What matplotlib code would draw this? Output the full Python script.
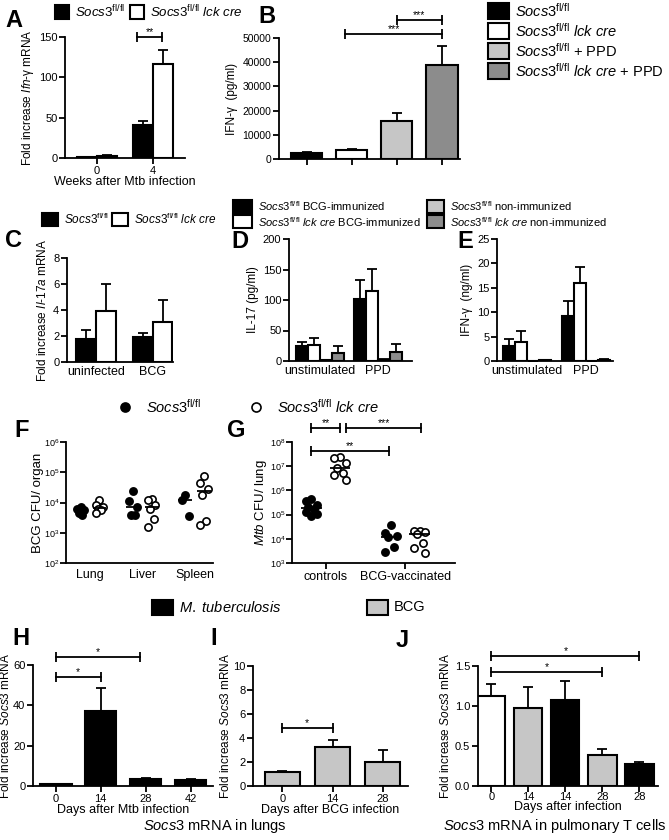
import numpy as np
import matplotlib
matplotlib.use('Agg')
import matplotlib.pyplot as plt
from matplotlib.patches import Rectangle
from matplotlib.lines import Line2D
from matplotlib.ticker import NullLocator, LogLocator

plt.rcParams['font.family'] = ['Liberation Sans', 'DejaVu Sans']
plt.rcParams['mathtext.fontset'] = 'custom'
plt.rcParams['mathtext.rm'] = 'Liberation Sans'
plt.rcParams['mathtext.it'] = 'Liberation Sans:italic'
plt.rcParams['mathtext.bf'] = 'Liberation Sans:bold'
plt.rcParams['axes.linewidth'] = 1.3

# ---- datos ----
# A
a_groups = ['0', '4']
a_fl = [1.0, 41]
a_fl_err = [0.2, 5]
a_cre = [2.5, 117]
a_cre_err = [1.2, 17]

# B
b_vals = [2500, 3800, 15800, 39000]
b_err = [500, 500, 3300, 7800]

# C
c_groups = ['uninfected', 'BCG']
c_fl = [1.8, 1.95]
c_fl_err = [0.7, 0.25]
c_cre = [3.9, 3.1]
c_cre_err = [2.1, 1.65]

# D / E
de_groups = ['unstimulated', 'PPD']
d_fl_bcg = [24, 102]
d_fl_bcg_err = [7, 31]
d_cre_bcg = [27, 115]
d_cre_bcg_err = [10, 36]
d_fl_non = [1, 2]
d_fl_non_err = [0.5, 1]
d_cre_non = [13, 14]
d_cre_non_err = [12, 14]

e_fl_bcg = [3.1, 9.3]
e_fl_bcg_err = [1.4, 2.9]
e_cre_bcg = [3.8, 16.0]
e_cre_bcg_err = [2.3, 3.2]
e_fl_non = [0.05, 0.05]
e_fl_non_err = [0, 0]
e_cre_non = [0.15, 0.3]
e_cre_non_err = [0.05, 0.05]

# F
f_groups = ['Lung', 'Liver', 'Spleen']
f_fl = [[7200, 6300, 5600, 4350, 3800],
        [23600, 11000, 7200, 4000, 4000],
        [17400, 12000, 3600]]
f_cre = [[11900, 8200, 7200, 6300, 5500, 4350],
         [13000, 12000, 8200, 6300, 2800, 1600],
         [73000, 45000, 29000, 17400, 2400, 1800]]

# G
g_groups = ['controls', 'BCG-vaccinated']
g_fl = [[4.3e5, 3.7e5, 2.5e5, 2.0e5, 1.65e5, 1.3e5, 1.05e5, 8.8e4],
        [3.6e4, 1.7e4, 1.25e4, 1.2e4, 4.5e3, 2.9e3]]
g_cre = [[2.3e7, 2.1e7, 1.4e7, 8.5e6, 5e6, 4.3e6, 2.6e6],
         [2.1e4, 2.1e4, 2.0e4, 1.6e4, 6.6e3, 4.2e3, 2.6e3]]

# H / I / J
h_days = ['0', '14', '28', '42']
h_vals = [1.0, 37, 3.3, 2.8]
h_err = [0.1, 11.5, 0.5, 0.7]

i_days = ['0', '14', '28']
i_vals = [1.15, 3.25, 2.0]
i_err = [0.12, 0.55, 1.0]

j_days = ['0', '14', '14', '28', '28']
j_vals = [1.13, 0.97, 1.08, 0.39, 0.28]
j_err = [0.15, 0.27, 0.23, 0.07, 0.02]

# ---- colores ----
BLACK = 'black'
WHITE = 'white'
LIGHT = '#c6c6c6'
DARK = '#8c8c8c'
j_colors = [WHITE, LIGHT, BLACK, LIGHT, BLACK]

fl = r'$\mathit{Socs3}^{\mathrm{fl/fl}}$'
cre = r'$\mathit{Socs3}^{\mathrm{fl/fl}}\ \mathit{lck\ cre}$'

W, H = 669, 840
fig = plt.figure(figsize=(W / 100, H / 100), dpi=100)


def box(l, t, r, b):
    return fig.add_axes([l / W, 1 - b / H, (r - l) / W, (b - t) / H])


def style(ax, fs=8):
    for s in ['top', 'right']:
        ax.spines[s].set_visible(False)
    ax.tick_params(direction='out', length=4, width=1.3, labelsize=fs, pad=1.5)


def bars(ax, x, h, e, color, w):
    ax.bar(x, h, w, color=color, edgecolor='black', linewidth=1.5, zorder=2)
    ax.errorbar(x, h, yerr=[np.zeros(len(e)), e], fmt='none', ecolor='black',
                elinewidth=1.3, capsize=3.5, capthick=1.3, zorder=3)


def sig(ax, x1, x2, y, txt):
    ax.plot([x1, x2], [y, y], color='black', lw=1.3, marker='|', ms=7, mew=1.3,
            clip_on=False, zorder=4)
    ax.text((x1 + x2) / 2, y, txt, ha='center', va='bottom', fontsize=7.5)


def key_box(x, y, color, label, fs, w=20, h=14):
    fig.patches.append(Rectangle((x / W, 1 - (y + h / 2) / H), w / W, h / H,
                                 transform=fig.transFigure, facecolor=color,
                                 edgecolor='black', lw=1.5))
    fig.text((x + w + 6) / W, 1 - y / H, label, fontsize=fs, va='center', ha='left')


def letter(x, y, s):
    fig.text(x / W, 1 - y / H, s, fontsize=17, fontweight='bold', ha='left', va='baseline')


def spread(n, d):
    pat = [0, -1, 1, -0.5, 0.5, -1, 1, 0, -0.5]
    return np.array([pat[i % len(pat)] for i in range(n)]) * d


# ---- A ----
ax = box(65, 37, 185, 158)
style(ax)
xa = np.arange(len(a_groups))
bars(ax, xa - 0.18, a_fl, a_fl_err, BLACK, 0.36)
bars(ax, xa + 0.18, a_cre, a_cre_err, WHITE, 0.36)
ax.set_xlim(-0.57, 1.57)
ax.set_ylim(0, 150)
ax.set_yticks([0, 50, 100, 150])
ax.set_xticks(xa)
ax.set_xticklabels(a_groups)
ax.set_xlabel('Weeks after Mtb infection', fontsize=9, labelpad=0)
ax.set_ylabel(r'Fold increase $\mathit{Ifn}$-γ mRNA', fontsize=8.5, labelpad=2)
sig(ax, 0.72, 1.16, 150, '**')
key_box(55, 12, BLACK, fl, 9.5, w=14, h=13)
key_box(130, 12, WHITE, cre, 9.5, w=14, h=13)
letter(5, 27, 'A')

# ---- B ----
ax = box(279, 38, 460, 159)
style(ax, 7.5)
xb = np.arange(len(b_vals))
bars(ax, xb, b_vals, b_err, [BLACK, WHITE, LIGHT, DARK], 0.69)
ax.set_xlim(-0.62, 3.4)
ax.set_ylim(0, 50000)
ax.set_yticks(range(0, 50001, 10000))
ax.set_xticks(xb)
ax.set_xticklabels([])
ax.set_ylabel('IFN-γ  (pg/ml)', fontsize=8.5, labelpad=3)
sig(ax, 2, 3, 57400, '***')
sig(ax, 0.85, 3, 51700, '***')
b_labels = [fl, cre, fl + ' + PPD', cre + ' + PPD']
for k, (c, lab) in enumerate(zip([BLACK, WHITE, LIGHT, DARK], b_labels)):
    key_box(488, 11 + 20 * k, c, lab, 10.5, w=21, h=15)
letter(258, 23, 'B')

# ---- C ----
ax = box(67, 258, 173, 362)
style(ax)
xc = np.arange(len(c_groups))
bars(ax, xc - 0.175, c_fl, c_fl_err, BLACK, 0.35)
bars(ax, xc + 0.175, c_cre, c_cre_err, WHITE, 0.35)
ax.set_xlim(-0.51, 1.36)
ax.set_ylim(0, 8)
ax.set_yticks([0, 2, 4, 6, 8])
ax.set_xticks(xc)
ax.set_xticklabels(c_groups, fontsize=9)
ax.tick_params(axis='x', length=0, pad=3)
ax.set_ylabel(r'Fold increase $\mathit{Il}$-$\mathit{17a}$ mRNA', fontsize=8.5, labelpad=3)
key_box(42, 219, BLACK, fl, 8.5, w=16, h=13)
key_box(112, 219, WHITE, cre, 8.5, w=16, h=13)
letter(5, 247, 'C')

# ---- D ----
bw = 0.21
offs = np.array([-1.5, -0.5, 0.5, 1.5]) * bw
ax = box(289, 239, 412, 361)
style(ax)
xd = np.arange(len(de_groups))
bars(ax, xd + offs[0], d_fl_bcg, d_fl_bcg_err, BLACK, bw)
bars(ax, xd + offs[1], d_cre_bcg, d_cre_bcg_err, WHITE, bw)
bars(ax, xd + offs[2], d_fl_non, d_fl_non_err, LIGHT, bw)
bars(ax, xd + offs[3], d_cre_non, d_cre_non_err, DARK, bw)
ax.set_xlim(-0.54, 1.59)
ax.set_ylim(0, 200)
ax.set_yticks([0, 50, 100, 150, 200])
ax.set_xticks(xd)
ax.set_xticklabels(de_groups, fontsize=9)
ax.tick_params(axis='x', length=0, pad=3)
ax.set_ylabel('IL-17 (pg/ml)', fontsize=8.5, labelpad=3)
letter(231, 248, 'D')

# ---- E ----
bw_e = 0.2
offs_e = np.array([-1.5, -0.5, 0.5, 1.5]) * bw_e
ax = box(497, 239, 613, 361)
style(ax)
bars(ax, xd + offs_e[0], e_fl_bcg, e_fl_bcg_err, BLACK, bw_e)
bars(ax, xd + offs_e[1], e_cre_bcg, e_cre_bcg_err, WHITE, bw_e)
bars(ax, xd + offs_e[2], e_fl_non, e_fl_non_err, LIGHT, bw_e)
bars(ax, xd + offs_e[3], e_cre_non, e_cre_non_err, DARK, bw_e)
ax.set_xlim(-0.5, 1.45)
ax.set_ylim(0, 25)
ax.set_yticks([0, 5, 10, 15, 20, 25])
ax.set_xticks(xd)
ax.set_xticklabels(de_groups, fontsize=9)
ax.tick_params(axis='x', length=0, pad=3)
ax.set_ylabel('IFN-γ  (ng/ml)', fontsize=8.5, labelpad=3)
letter(457, 248, 'E')

# legend D/E
key_box(233, 206, BLACK, fl + ' BCG-immunized', 8, w=19, h=13)
key_box(233, 222, WHITE, cre + ' BCG-immunized', 8, w=19, h=13)
key_box(427, 206, LIGHT, fl + ' non-immunized', 8, w=17, h=13)
key_box(427, 222, DARK, cre + ' non-immunized', 8, w=17, h=13)


def dots(ax, xpos, groups_fl, groups_cre, off, d):
    for k in range(len(groups_fl)):
        for vals, sgn, face in [(groups_fl[k], -1, 'black'), (groups_cre[k], 1, 'white')]:
            v = np.array(vals)
            xx = xpos[k] + sgn * off + spread(len(v), d)
            ax.plot(xx, v, 'o', ms=5.2, mfc=face, mec='black', mew=1.2, zorder=3, clip_on=False)
            ax.hlines(np.median(v), xpos[k] + sgn * off - 0.13, xpos[k] + sgn * off + 0.13,
                      color='black', lw=1.3, zorder=4)


# ---- F ----
ax = box(66, 442, 213, 563)
style(ax)
xf = np.arange(len(f_groups))
dots(ax, xf, f_fl, f_cre, 0.18, 0.07)
ax.set_yscale('log')
ax.set_ylim(1e2, 1e6)
ax.yaxis.set_major_locator(LogLocator(base=10, numticks=10))
ax.yaxis.set_minor_locator(NullLocator())
ax.set_xlim(-0.46, 2.35)
ax.set_xticks(xf)
ax.set_xticklabels(f_groups, fontsize=9)
ax.tick_params(axis='x', length=0, pad=4)
ax.tick_params(axis='y', labelsize=6.5, pad=0.5)
ax.set_ylabel('BCG CFU/ organ', fontsize=9.5, labelpad=0)
letter(14, 437, 'F')

# ---- G ----
ax = box(292, 442, 455, 563)
style(ax)
xg = np.arange(len(g_groups))
dots(ax, xg, g_fl, g_cre, 0.18, 0.07)
ax.set_yscale('log')
ax.set_ylim(1e3, 1e8)
ax.yaxis.set_major_locator(LogLocator(base=10, numticks=10))
ax.yaxis.set_minor_locator(NullLocator())
ax.set_xlim(-0.42, 1.62)
ax.set_xticks(xg)
ax.set_xticklabels(g_groups, fontsize=9)
ax.tick_params(axis='y', labelsize=6.5, pad=0.5)
ax.set_ylabel(r'$\mathit{Mtb}$ CFU/ lung', fontsize=9.5, labelpad=1)
sig(ax, -0.18, 0.18, 3.8e8, '**')
sig(ax, 0.26, 1.2, 3.8e8, '***')
sig(ax, -0.18, 0.8, 4.3e7, '**')
letter(227, 437, 'G')

# legend F/G
fig.add_artist(Line2D([125 / W], [1 - 407 / H], marker='o', ms=6.5, mfc='black', mec='black',
                      mew=1.2, transform=fig.transFigure))
fig.text(146 / W, 1 - 407 / H, fl, fontsize=10.5, va='center')
fig.add_artist(Line2D([256 / W], [1 - 407 / H], marker='o', ms=6.5, mfc='white', mec='black',
                      mew=1.2, transform=fig.transFigure))
fig.text(277 / W, 1 - 407 / H, cre, fontsize=10.5, va='center')

# ---- H ----
ax = box(33, 665, 213, 786)
style(ax)
xh = np.arange(len(h_days))
bars(ax, xh, h_vals, h_err, BLACK, 0.7)
ax.set_xlim(-0.51, 3.5)
ax.set_ylim(0, 60)
ax.set_yticks([0, 20, 40, 60])
ax.set_xticks(xh)
ax.set_xticklabels(h_days)
ax.set_xlabel('Days after Mtb infection', fontsize=9, labelpad=0)
ax.set_ylabel(r'Fold increase $\mathit{Socs3}$ mRNA', fontsize=8.5, labelpad=0.5)
sig(ax, 0, 1, 54, '*')
sig(ax, 0, 1.87, 64, '*')
letter(12, 645, 'H')

# ---- I ----
ax = box(253, 666, 408, 786)
style(ax)
xi = np.arange(len(i_days))
bars(ax, xi, i_vals, i_err, LIGHT, 0.7)
ax.set_xlim(-0.58, 2.5)
ax.set_ylim(0, 10)
ax.set_yticks([0, 2, 4, 6, 8, 10])
ax.set_xticks(xi)
ax.set_xticklabels(i_days)
ax.set_xlabel('Days after BCG infection', fontsize=9, labelpad=0)
ax.set_ylabel(r'Fold increase $\mathit{Socs3}$ mRNA', fontsize=8.5, labelpad=1)
sig(ax, 0, 1, 4.85, '*')
letter(210, 645, 'I')

# ---- J ----
ax = box(478, 666, 658, 786)
style(ax)
xj = np.arange(len(j_days))
bars(ax, xj, j_vals, j_err, j_colors, 0.76)
ax.set_xlim(-0.36, 4.5)
ax.set_ylim(0, 1.5)
ax.set_yticks([0, 0.5, 1.0, 1.5])
ax.set_yticklabels(['0.0', '0.5', '1.0', '1.5'])
ax.set_xticks(xj)
ax.set_xticklabels(j_days)
ax.tick_params(axis='x', pad=0.5)
ax.set_xlabel('Days after infection', fontsize=9, labelpad=-1)
ax.set_ylabel(r'Fold increase $\mathit{Socs3}$ mRNA', fontsize=8.5, labelpad=2)
sig(ax, 0, 3, 1.42, '*')
sig(ax, 0, 4, 1.62, '*')
letter(396, 647, 'J')

# legend H/I/J
key_box(152, 607, BLACK, r'$\mathit{M.\ tuberculosis}$', 10.5, w=21, h=15)
key_box(367, 607, LIGHT, 'BCG', 10.5, w=21, h=15)

# captions
fig.text(215 / W, 1 - 826 / H, r'$\mathit{Socs3}$ mRNA in lungs', fontsize=10.5, ha='center', va='center')
fig.text(555 / W, 1 - 826 / H, r'$\mathit{Socs3}$ mRNA in pulmonary T cells', fontsize=10.5,
         ha='center', va='center')

fig.savefig('out.png', dpi=100)
